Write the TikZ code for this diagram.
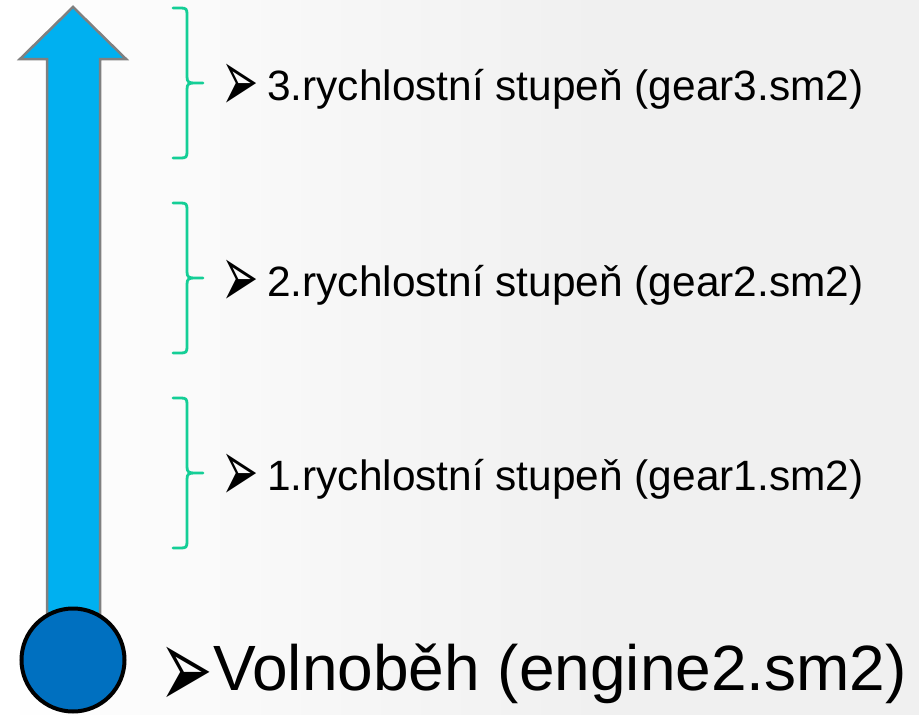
\documentclass[tikz,border=0pt]{standalone}
\usepackage{fontspec}
\setmainfont{Liberation Sans}
\newfontfamily\bulfont{DejaVu Sans}
\definecolor{arrowfill}{RGB}{0,176,240}
\definecolor{arrowline}{RGB}{128,128,128}
\definecolor{dotfill}{RGB}{0,112,192}
\definecolor{bracecol}{RGB}{20,206,150}
\definecolor{bgedge}{RGB}{240,240,240}
\newcommand{\gearbullet}{\makebox[46pt][l]{\raisebox{-11.9pt}{\bulfont\scalebox{1.05}[2.1]{➢}}}}
\newcommand{\idlebullet}{\makebox[54pt][l]{\raisebox{-18pt}{\bulfont\scalebox{1.0}[1.8]{➢}}}}
\begin{document}
\begin{tikzpicture}[x=1pt,y=-1pt,
  bracestyle/.style={draw=bracecol,line width=2.8pt,line cap=round,line join=round},
  gearlabel/.style={anchor=base west,inner sep=0pt,font=\fontsize{42.4}{50}\selectfont},
  idlelabel/.style={anchor=base west,inner sep=0pt,font=\fontsize{64}{70}\selectfont},
  idledot/.style={circle,draw=black,line width=4pt,fill=dotfill,minimum size=103pt,inner sep=0pt}]
\useasboundingbox (0,0) rectangle (919,715);
\fill[bgedge] (0,0) rectangle (919,715);
\shade[left color=white,right color=bgedge] (0,0) rectangle (600,715);
% big arrow
\filldraw[fill=arrowfill,draw=arrowline,line width=2.5pt,line join=miter]
  (73,7) -- (126,59) -- (100,59) -- (100,620) -- (47,620) -- (47,59) -- (20,59) -- cycle;
\node[idledot] (idle) at (73,660) {};
% braces
\foreach \yt/\yb in {8/158, 203/353, 398/548}{
  \pgfmathsetmacro{\ym}{(\yt+\yb)/2}
  \draw[bracestyle] (173,\yt) -- (181,\yt) .. controls (186,\yt) and (187,\yt+1) .. (187,\yt+6)
     -- (187,\ym-6) .. controls (187,\ym-1) and (189,\ym) .. (194,\ym) -- (203,\ym)
     (194,\ym) .. controls (189,\ym) and (187,\ym+1) .. (187,\ym+6)
     -- (187,\yb-6) .. controls (187,\yb-1) and (186,\yb) .. (181,\yb) -- (173,\yb);
}
% labels
\node[gearlabel] (g3) at (221,100) {\gearbullet 3.rychlostní stupeň (gear3.sm2)};
\node[gearlabel] (g2) at (221,296) {\gearbullet 2.rychlostní stupeň (gear2.sm2)};
\node[gearlabel] (g1) at (221,490) {\gearbullet 1.rychlostní stupeň (gear1.sm2)};
\node[idlelabel] (idletext) at (159,690) {\idlebullet Volnoběh (engine2.sm2)};
\end{tikzpicture}
\end{document}
